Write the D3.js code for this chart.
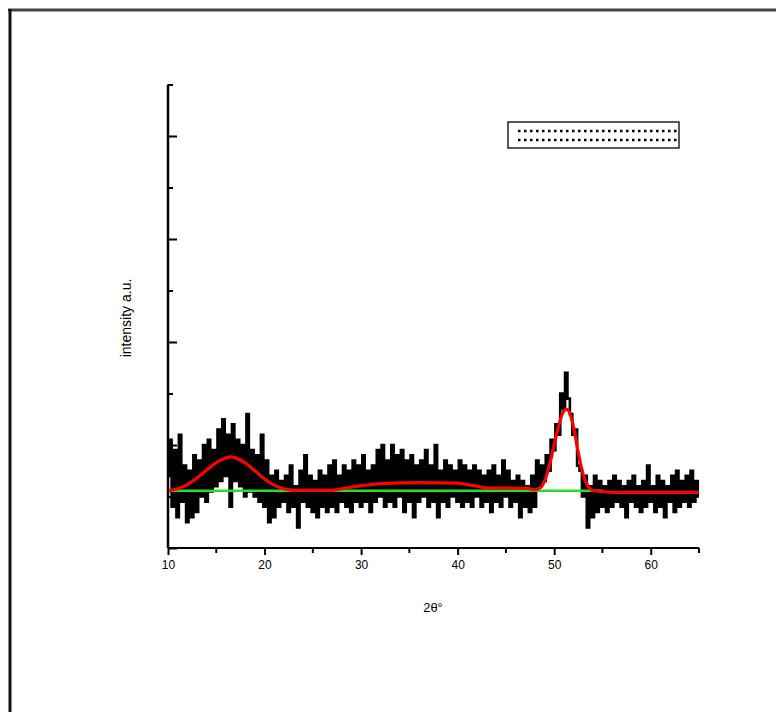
<!DOCTYPE html>
<html>
<head>
<meta charset="utf-8">
<style>
  body { margin: 0; background: #fff; }
  svg text { font-family: "Liberation Sans", Arial, sans-serif; fill: #000; }
</style>
</head>
<body>
<svg id="chart" width="776" height="712"></svg>
<script src="https://d3js.org/d3.v7.min.js"></script>
<script>

// measured pattern, 2theta from 10 to 65 in 0.25 degree steps
var scanStart = 10, scanStep = 0.25
var intensity = [
  14, 21, 8, 19,   6, 22, 9, 16,   5, 15, 6, 18,   7, 17, 10, 20,
  9, 21, 11, 19,   12, 23, 13, 25,   14, 22, 8, 24,   13, 21, 12, 20,
  10, 26, 11, 19,   10, 18, 9, 22,   8, 17, 5, 14,   6, 15, 8, 13,
  9, 14, 7, 16,   8, 12, 4, 15,   9, 18, 8, 14,   7, 13, 6, 15,
  8, 14, 7, 16,   8, 17, 7, 14,   9, 16, 8, 15,   7, 17, 9, 16,
  8, 18, 9, 15,   7, 16, 9, 19,   10, 20, 8, 17,   9, 20, 8, 18,
  10, 19, 7, 17,   9, 18, 6, 16,   9, 17, 10, 19,   8, 16, 9, 20,
  6, 15, 9, 17,   8, 16, 10, 15,   9, 17, 8, 16,   9, 15, 8, 16,
  10, 15, 8, 14,   9, 15, 7, 16,   9, 14, 8, 17,   10, 15, 8, 13,
  9, 14, 6, 13,   8, 12, 7, 14,   8, 17, 12, 16,   13, 18, 15, 21,
  19, 24, 22, 30,   27, 34, 29, 26,   22, 23, 16, 15,   10, 14, 4, 12,
  6, 14, 7, 13,   8, 12, 7, 13,   8, 14, 9, 13,   8, 12, 6, 13,
  9, 14, 8, 12,   7, 13, 8, 16,   9, 12, 7, 14,   8, 13, 6, 12,
  9, 14, 7, 15,   8, 13, 9, 14,   8, 15, 9, 13,   10
]

// fitted curve (red)
var fitX = [10, 11, 12, 13, 14, 15, 16, 16.5, 17, 18, 19, 20, 21, 22, 23, 25, 27, 28, 29, 30, 31, 32,
            36, 40, 41, 42, 43, 47, 48, 48.5, 49, 49.5, 50, 50.5, 51, 51.3, 51.6, 52, 52.5, 53, 53.5,
            54, 55, 56, 60, 65]
var fitY = [11.1, 11.5, 12.3, 13.6, 15.1, 16.6, 17.5, 17.7, 17.5, 16.5, 15.0, 13.4, 12.2, 11.5, 11.2, 11.2, 11.2, 11.5, 11.8, 12.1, 12.3, 12.5,
            12.7, 12.6, 12.3, 12.0, 11.7, 11.6, 11.3, 11.6, 13.0, 16.0, 20.0, 24.0, 26.6, 26.9, 26.3, 23.5, 18.5, 14.3, 12.0,
            11.2, 11.0, 10.8, 10.8, 10.8]

// baseline (green)
var baseX = [10, 55]
var baseY = [11.1, 11.1]

var xTicks = [10, 20, 30, 40, 50, 60]
var xMinor = [15, 25, 35, 45, 55, 65]
var yTicks = [0, 10, 20, 30, 40, 50, 60, 70, 80, 90]

var svg = d3.select("#chart")

// page frame
svg.append("line").attr("x1", 8).attr("x2", 776).attr("y1", 10).attr("y2", 10)
  .attr("stroke", "#444").attr("stroke-width", 3)
svg.append("line").attr("x1", 10).attr("x2", 10).attr("y1", 9).attr("y2", 712)
  .attr("stroke", "#111").attr("stroke-width", 3)

var x = d3.scaleLinear().domain([10, 65]).range([168, 699])
var y = d3.scaleLinear().domain([0, 90]).range([548, 84.5])

var g = svg.append("g")

// pattern
var scan = intensity.map((v, i) => ({x: scanStart + i * scanStep, y: v}))
var scanLine = d3.line().x(d => x(d.x)).y(d => y(d.y)).curve(d3.curveStep)
g.append("path").datum(scan)
  .attr("fill", "none").attr("stroke", "#000").attr("stroke-width", 2.6)
  .attr("d", scanLine)

// baseline
var base = baseX.map((v, i) => ({x: v, y: baseY[i]}))
g.append("path").datum(base)
  .attr("fill", "none").attr("stroke", "#22e022").attr("stroke-width", 2.5)
  .attr("d", d3.line().x(d => x(d.x)).y(d => y(d.y)))

// fit
var fit = fitX.map((v, i) => ({x: v, y: fitY[i]}))
g.append("path").datum(fit)
  .attr("fill", "none").attr("stroke", "#ff0000").attr("stroke-width", 3.2)
  .attr("stroke-linejoin", "round")
  .attr("d", d3.line().x(d => x(d.x)).y(d => y(d.y)).curve(d3.curveMonotoneX))

// x axis
var xAxis = g.append("g").attr("transform", "translate(0,548)")
  .call(d3.axisBottom(x).tickValues(xTicks).tickSize(7).tickPadding(5).tickFormat(d3.format("d")))
xAxis.append("g").selectAll("line").data(xMinor).enter().append("line")
  .attr("x1", d => x(d)).attr("x2", d => x(d)).attr("y1", 0).attr("y2", 5)
  .attr("stroke", "#000").attr("stroke-width", 2)
xAxis.select(".domain").attr("d", "M" + x(10) + ",0H" + x(65)).attr("stroke-width", 2.2)
xAxis.selectAll(".tick line").attr("stroke-width", 2)
xAxis.selectAll("text").style("font-size", "12px")

// y axis, ticks inside, no labels
var yAxis = g.append("g").attr("transform", "translate(168,0)")
  .call(d3.axisRight(y).tickValues(yTicks).tickSize(0).tickFormat(""))
yAxis.select(".domain").attr("d", "M0," + y(0) + "V" + y(90)).attr("stroke-width", 2.5)
yAxis.selectAll(".tick line")
  .attr("x2", d => (d % 20 === 0 ? 9 : 5))
  .attr("stroke-width", 2)

// axis titles
svg.append("text")
  .attr("transform", "translate(131,318) rotate(-90)")
  .attr("text-anchor", "middle")
  .style("font-size", "14px")
  .text("intensity a.u.")

svg.append("text")
  .attr("x", 433).attr("y", 612)
  .attr("text-anchor", "middle")
  .style("font-size", "13px")
  .text("2θ°")

// legend box (unreadable dotted entry)
var leg = svg.append("g")
leg.append("rect").attr("x", 508).attr("y", 122).attr("width", 171).attr("height", 26)
  .attr("fill", "#fff").attr("stroke", "#222").attr("stroke-width", 1.5)
leg.selectAll("line.dots").data([131, 140]).enter().append("line")
  .attr("x1", 518).attr("x2", 678).attr("y1", d => d).attr("y2", d => d)
  .attr("stroke", "#000").attr("stroke-width", 2.5).attr("stroke-dasharray", "2.5,3.5")

</script>
</body>
</html>
